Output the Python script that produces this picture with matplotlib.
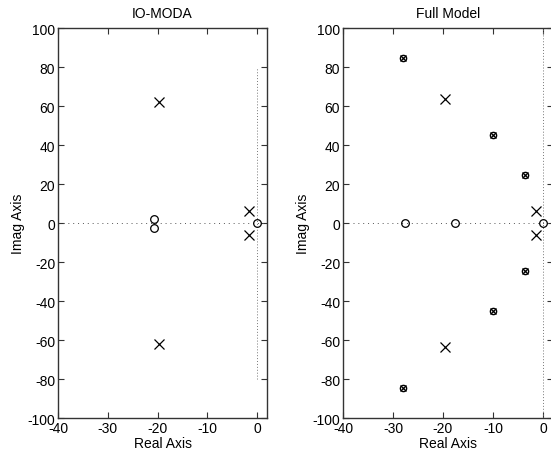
import matplotlib
matplotlib.use("Agg")
import matplotlib.pyplot as plt

# IO-MODA poles / zeros
io_pole_re = [-19.7, -19.7, -1.6, -1.6]
io_pole_im = [62.0, -62.0, 6.0, -6.0]
io_zero_re = [-20.7, -20.7, 0.0]
io_zero_im = [2.3, -2.3, 0.0]

# Full model poles / zeros
fm_pole_re = [-19.6, -19.6, -1.3, -1.3]
fm_pole_im = [63.5, -63.5, 6.0, -6.0]
fm_zero_re = [-27.6, -17.5, 0.0]
fm_zero_im = [0.0, 0.0, 0.0]
# pole-zero pairs sitting on top of each other
fm_pair_re = [-28.0, -28.0, -10.0, -10.0, -3.5, -3.5]
fm_pair_im = [84.6, -84.6, 45.2, -45.2, 24.8, -24.8]

xticks = [-40, -30, -20, -10, 0]
yticks = [-100, -80, -60, -40, -20, 0, 20, 40, 60, 80, 100]

plt.rcParams['font.family'] = ['Liberation Sans', 'DejaVu Sans']
plt.rcParams['font.size'] = 10


def style_axes(ax, title):
    ax.set_xlim(-40, 2)
    ax.set_ylim(-100, 100)
    ax.set_xticks(xticks)
    ax.set_yticks(yticks)
    ax.set_xticklabels([str(t) for t in xticks])
    ax.set_yticklabels([str(t) for t in yticks])
    ax.tick_params(direction='in', length=4, width=0.8, top=True, right=True,
                   labelsize=10, pad=2, color='#333333')
    for s in ax.spines.values():
        s.set_linewidth(1.0)
        s.set_color('#333333')
    ax.set_title(title, fontsize=10, pad=8)
    ax.set_xlabel('Real Axis', fontsize=10, labelpad=1)
    ax.set_ylabel('Imag Axis', fontsize=10, labelpad=2)


fig = plt.figure(figsize=(5.51, 4.56), dpi=100)
ax1 = fig.add_axes([0.1053, 0.0811, 0.3793, 0.855])
ax2 = fig.add_axes([0.6225, 0.0811, 0.381, 0.855])

# left panel
ax1.plot([-39, 2], [0, 0], ls=(0, (1, 4)), color='#555555', lw=0.7)
ax1.plot([0, 0], [-80, 80], ls=(0, (1, 2)), color='#777777', lw=0.7)
ax1.plot(io_pole_re, io_pole_im, 'x', color='black', ms=7, mew=0.9)
ax1.plot(io_zero_re, io_zero_im, 'o', mfc='none', mec='black', ms=5.5, mew=0.9)
style_axes(ax1, 'IO-MODA')

# right panel
ax2.plot([-38, 2], [0, 0], ls=(0, (1, 4)), color='#555555', lw=0.7)
ax2.plot([0, 0], [-100, 100], ls=(0, (1, 2)), color='#777777', lw=0.7)
ax2.plot(fm_pole_re, fm_pole_im, 'x', color='black', ms=7, mew=0.9)
ax2.plot(fm_zero_re, fm_zero_im, 'o', mfc='none', mec='black', ms=5.5, mew=0.9)
ax2.plot(fm_pair_re, fm_pair_im, 'o', mfc='none', mec='black', ms=4.5, mew=1.0)
ax2.plot(fm_pair_re, fm_pair_im, 'x', color='black', ms=4, mew=0.9)
style_axes(ax2, 'Full Model')

fig.savefig('out.png', dpi=100)
